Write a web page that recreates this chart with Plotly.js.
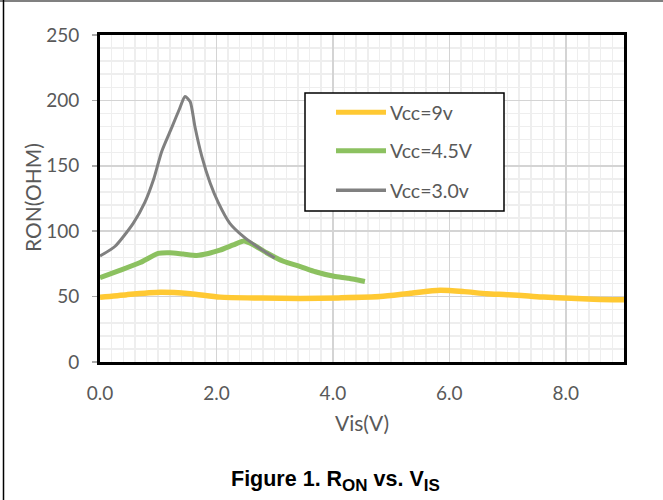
<!DOCTYPE html>
<html>
<head>
<meta charset="utf-8">
<script src="https://cdn.plot.ly/plotly-3.0.1.min.js"></script>
<style>html,body{margin:0;padding:0;background:#fff;}#chart{width:663px;height:500px;}</style>
</head>
<body>
<div id="chart"></div>
<script>
// Series names
const seriesNames = ["Vcc=9v", "Vcc=4.5V", "Vcc=3.0v"];
const seriesColors = ["#FFC933", "#8CC160", "#808080"];

// Vcc = 9 V
const vis9 = [0, 0.46, 1.04, 1.55, 2.06, 2.78, 3.44, 4.1, 4.81, 5.33, 5.84, 6.25, 6.64, 6.99, 7.36, 7.62, 8.09, 8.48, 9.0];
const ron9 = [49.5, 51.5, 53.3, 52.2, 49.6, 48.9, 48.5, 49, 50, 52.5, 54.8, 53.8, 52.2, 51.5, 50.4, 49.6, 48.8, 48, 47.5];

// Vcc = 4.5 V
const vis45 = [0, 0.34, 0.69, 1.0, 1.2, 1.43, 1.66, 1.86, 2.06, 2.29, 2.47, 2.64, 2.86, 3.15, 3.44, 3.7, 4.02, 4.27, 4.55];
const ron45 = [64.5, 70, 76, 83, 83.5, 82.5, 81.5, 83, 85.5, 89.5, 92.5, 89.5, 83.5, 77, 73, 69, 65.5, 64, 61.5];

// Vcc = 3.0 V
const vis3 = [0, 0.26, 0.57, 0.77, 0.92, 1.06, 1.23, 1.37, 1.46, 1.55, 1.63, 1.75, 1.89, 2.03, 2.23, 2.46, 2.69, 2.86, 3.0];
const ron3 = [81, 88.5, 106, 122, 139.5, 161, 179, 194, 203, 199, 180, 157, 137, 122, 106, 96, 88.5, 83.5, 79.5];

// Tick labels
const xTickVals = [0, 2, 4, 6, 8];
const xTickText = ["0.0", "2.0", "4.0", "6.0", "8.0"];
const yTickVals = [0, 50, 100, 150, 200, 250];

const FONT = "Lato, 'Open Sans', sans-serif";
const TXT = "#595959";

// pixel -> paper helpers (plot area: x 100..624, y 35..362)
const L = 100, R = 39, T = 35, B = 138, W = 663, H = 500;
const PW = W - L - R, PH = H - T - B;
const px = x => (x - L) / PW;
const py = y => (H - B - y) / PH;

const widths = [5.5, 5, 3];
const xs = [vis9, vis45, vis3];
const ys = [ron9, ron45, ron3];

const traces = xs.map((x, i) => ({
  x: x, y: ys[i], type: "scatter", mode: "lines", name: seriesNames[i],
  line: {color: seriesColors[i], width: widths[i], shape: "spline", smoothing: 0.6},
  showlegend: false, hoverinfo: "skip"
}));

// manual legend
const legRows = [112.3, 150.7, 190.3];
const shapes = [
  {type: "rect", xref: "paper", yref: "paper", x0: px(305), x1: px(504), y0: py(93), y1: py(211),
   line: {color: "#000", width: 1.5}, fillcolor: "#fff", layer: "above"},
  // outer frame
  {type: "line", xref: "paper", yref: "paper", x0: px(0), x1: px(663), y0: py(1), y1: py(1),
   line: {color: "#808080", width: 2}},
  {type: "line", xref: "paper", yref: "paper", x0: px(3.5), x1: px(3.5), y0: py(0), y1: py(500),
   line: {color: "#000", width: 1.5}}
];
const annotations = [];
seriesNames.forEach((n, i) => {
  shapes.push({type: "line", xref: "paper", yref: "paper", x0: px(336), x1: px(386),
    y0: py(legRows[i]), y1: py(legRows[i]), line: {color: seriesColors[i], width: i < 2 ? 5 : 3.5}, layer: "above"});
  annotations.push({xref: "paper", yref: "paper", x: px(388), y: py(legRows[i]), xanchor: "left", yanchor: "middle",
    text: n, showarrow: false, font: {family: FONT, size: 19.5, color: TXT}});
});
annotations.push({xref: "paper", yref: "paper", x: px(335), y: py(481), xanchor: "center", yanchor: "middle",
  text: "<b>Figure 1. R<sub><span style='font-size:17px'>ON</span></sub> vs. V<sub><span style='font-size:17px'>IS</span></sub></b>", showarrow: false,
  font: {family: "'Liberation Sans', Arial, sans-serif", size: 21.5, color: "#000"}});
// y-axis title
annotations.push({xref: "paper", yref: "paper", x: px(32), y: py(198), xanchor: "center", yanchor: "middle",
  text: "RON(OHM)", textangle: -90, showarrow: false, font: {family: FONT, size: 21, color: TXT}});

const layout = {
  width: W, height: H,
  margin: {l: L, r: R, t: T, b: B, pad: 0},
  paper_bgcolor: "#fff", plot_bgcolor: "#fff",
  showlegend: false,
  font: {family: FONT, size: 19, color: TXT},
  xaxis: {
    range: [0, 9], tickvals: xTickVals, ticktext: xTickText,
    showgrid: true, gridcolor: "#d4d4d4", gridwidth: 1.5,
    minor: {dtick: 0.2, tick0: 0, showgrid: true, gridcolor: "#eeeeee", gridwidth: 1.5},
    showline: true, linecolor: "#000", linewidth: 3, mirror: true,
    zeroline: false, ticks: "", ticklabelstandoff: 12,
    tickfont: {family: FONT, size: 19, color: TXT},
    title: {text: "Vis(V)", font: {family: FONT, size: 21, color: TXT}, standoff: 14}
  },
  yaxis: {
    range: [0, 250], tickvals: yTickVals,
    showgrid: true, gridcolor: "#d4d4d4", gridwidth: 1.5,
    minor: {dtick: 10, tick0: 0, showgrid: true, gridcolor: "#eeeeee", gridwidth: 1.5},
    showline: true, linecolor: "#000", linewidth: 3, mirror: true,
    zeroline: false, ticks: "outside", ticklen: 5, tickcolor: "#aaaaaa", tickwidth: 1.5,
    ticklabelstandoff: 9,
    tickfont: {family: FONT, size: 19, color: TXT}
  },
  shapes: shapes,
  annotations: annotations
};

Plotly.newPlot("chart", traces, layout, {displayModeBar: false, staticPlot: true});
</script>
</body>
</html>
